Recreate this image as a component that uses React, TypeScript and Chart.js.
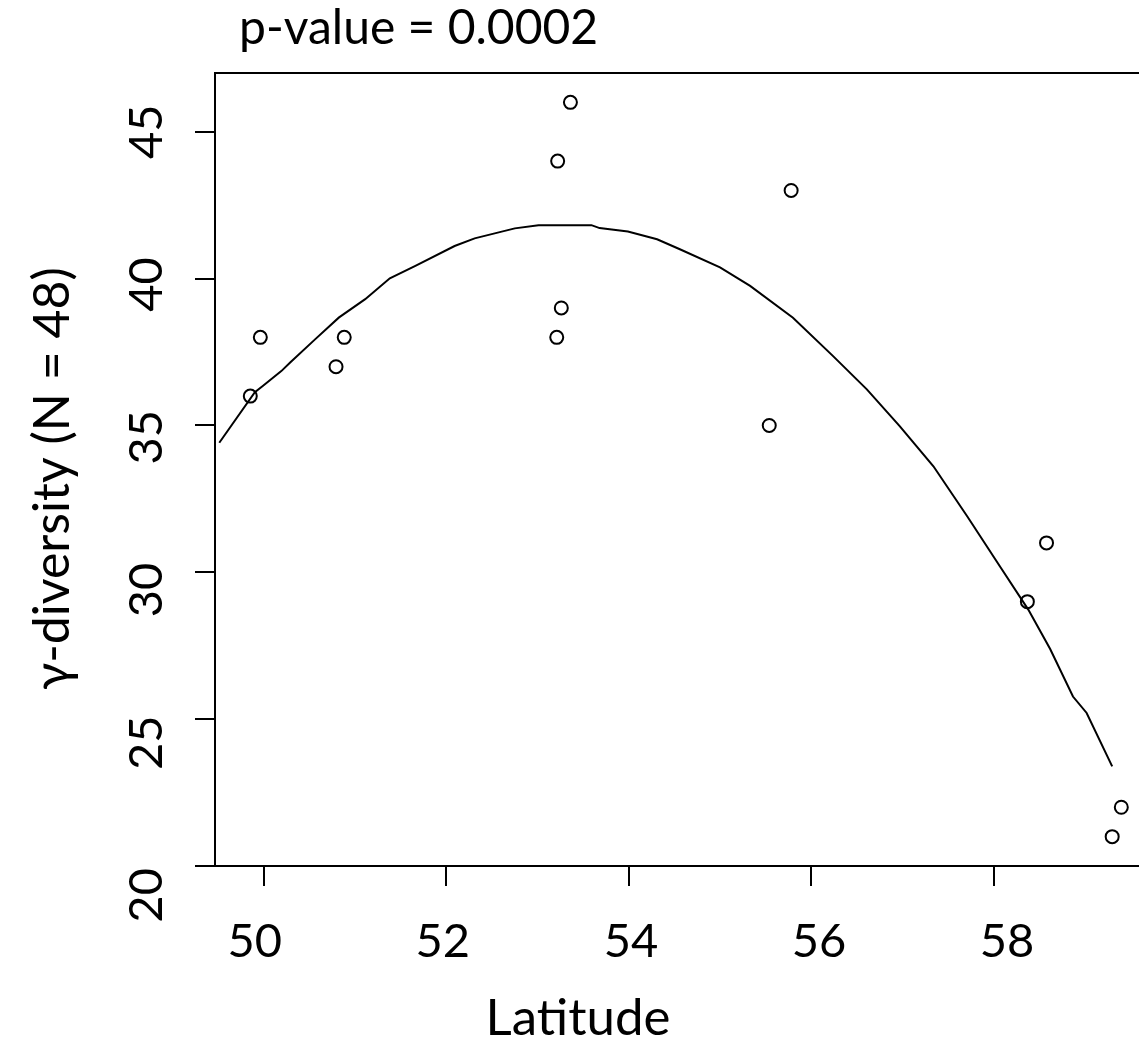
import React, { useEffect, useRef } from "react";
import { Chart, registerables } from "chart.js";

Chart.register(...registerables);

// Observed sites
const latitudes = [49.85, 49.96, 50.79, 50.88, 53.21, 53.22, 53.26, 53.36, 55.54, 55.78, 58.37, 58.58, 59.30, 59.40];
const gammaDiversity = [36, 38, 37, 38, 38, 44, 39, 46, 35, 43, 29, 31, 21, 22];

// Fitted curve
const fitLatitudes = [49.51, 49.90, 49.99, 50.19, 50.29, 50.56, 50.82, 51.11, 51.38, 51.66, 52.09, 52.31, 52.75, 53.01, 53.59, 53.68, 53.99, 54.31, 54.56, 55.00, 55.33, 55.80, 56.24, 56.61, 56.97, 57.34, 57.71, 58.07, 58.38, 58.62, 58.87, 59.02, 59.30];
const fitValues = [34.41, 36.13, 36.35, 36.85, 37.15, 37.93, 38.67, 39.30, 40.01, 40.43, 41.11, 41.37, 41.71, 41.82, 41.82, 41.72, 41.60, 41.34, 41.00, 40.38, 39.75, 38.67, 37.36, 36.23, 34.98, 33.61, 31.91, 30.20, 28.73, 27.39, 25.77, 25.21, 23.39];

const xTicks = [50, 52, 54, 56, 58];
const yTicks = [20, 25, 30, 35, 40, 45];

const titleText = "p-value = 0.0002";
const xTitle = "Latitude";
const yTitle = "γ-diversity (N = 48)";

const FONT = "Lato";
const W = 1139;
const H = 1044;

const textPlugin = {
  id: "rText",
  afterDraw(chart: any) {
    const { ctx, chartArea, scales } = chart;
    const xs = scales.x;
    const ys = scales.y;
    ctx.save();
    ctx.fillStyle = "#000";
    ctx.strokeStyle = "#000";

    // top border of the box
    ctx.lineWidth = 2;
    ctx.beginPath();
    ctx.moveTo(chartArea.left, chartArea.top);
    ctx.lineTo(chartArea.right, chartArea.top);
    ctx.stroke();

    // x tick labels
    ctx.font = `47px ${FONT}`;
    ctx.textAlign = "center";
    ctx.textBaseline = "alphabetic";
    xTicks.forEach((v) => {
      const px = xs.getPixelForValue(v);
      const drift = (px - 560) * 0.031;
      ctx.fillText(String(v), px + drift, chartArea.bottom + 91);
    });

    // y tick labels (rotated)
    const y45 = ys.getPixelForValue(yTicks[yTicks.length - 1]);
    yTicks.forEach((v) => {
      const py = ys.getPixelForValue(v);
      const drift = (py - y45) * 0.04;
      ctx.save();
      ctx.translate(chartArea.left - 53, py + drift);
      ctx.rotate(-Math.PI / 2);
      ctx.textAlign = "center";
      ctx.textBaseline = "alphabetic";
      ctx.fillText(String(v), 0, 0);
      ctx.restore();
    });

    // main title
    ctx.font = `48px ${FONT}`;
    ctx.textAlign = "left";
    ctx.fillText(titleText, chartArea.left + 24, chartArea.top - 29);

    // x title
    ctx.font = `51px ${FONT}`;
    ctx.textAlign = "center";
    ctx.fillText(xTitle, 578, chartArea.bottom + 169);

    // y title
    ctx.font = `50px ${FONT}`;
    ctx.save();
    ctx.translate(68.5, 478.5);
    ctx.rotate(-Math.PI / 2);
    ctx.textAlign = "center";
    ctx.textBaseline = "alphabetic";
    ctx.fillText(yTitle, 0, 0);
    ctx.restore();

    ctx.restore();
  },
};

export default function App() {
  const canvasRef = useRef<HTMLCanvasElement | null>(null);

  useEffect(() => {
    const canvas = canvasRef.current;
    if (!canvas) return;
    const chart = new Chart(canvas, {
      type: "scatter",
      data: {
        datasets: [
          {
            label: "fit",
            data: fitLatitudes.map((x, i) => ({ x, y: fitValues[i] })),
            showLine: true,
            borderColor: "#000",
            borderWidth: 2,
            pointRadius: 0,
            fill: false,
            tension: 0,
          },
          {
            label: "sites",
            data: latitudes.map((x, i) => ({ x, y: gammaDiversity[i] })),
            showLine: false,
            pointStyle: "circle",
            pointRadius: 6.5,
            borderWidth: 2,
            borderColor: "#000",
            backgroundColor: "rgba(0,0,0,0)",
          },
        ],
      },
      options: {
        responsive: false,
        animation: false,
        devicePixelRatio: 1,
        layout: { autoPadding: false, padding: { top: 73, left: 0, right: 0, bottom: 0 } },
        plugins: {
          legend: { display: false },
          tooltip: { enabled: false },
          title: { display: false },
        },
        scales: {
          x: {
            type: "linear",
            position: "bottom",
            min: 49.463,
            max: 59.594,
            afterBuildTicks: (s: any) => {
              s.ticks = xTicks.map((v) => ({ value: v }));
            },
            afterFit: (s: any) => {
              s.height = 178;
            },
            ticks: { display: false },
            grid: {
              drawOnChartArea: false,
              drawTicks: true,
              tickLength: 20,
              tickWidth: 2,
              tickColor: "#000",
              color: "#000",
              lineWidth: 2,
            },
            border: { display: true, color: "#000", width: 2 },
          },
          y: {
            type: "linear",
            position: "left",
            min: 20,
            max: 47.0,
            afterBuildTicks: (s: any) => {
              s.ticks = yTicks.map((v) => ({ value: v }));
            },
            afterFit: (s: any) => {
              s.width = 215;
            },
            ticks: { display: false },
            grid: {
              drawOnChartArea: false,
              drawTicks: true,
              tickLength: 20,
              tickWidth: 2,
              tickColor: "#000",
              color: "#000",
              lineWidth: 2,
            },
            border: { display: true, color: "#000", width: 2 },
          },
        },
      },
      plugins: [textPlugin],
    });
    return () => chart.destroy();
  }, []);

  return (
    <div style={{ position: "absolute", left: 0, top: 0, width: W, height: H, background: "#fff" }}>
      <canvas ref={canvasRef} width={W} height={H} style={{ width: W, height: H, display: "block" }} />
    </div>
  );
}
